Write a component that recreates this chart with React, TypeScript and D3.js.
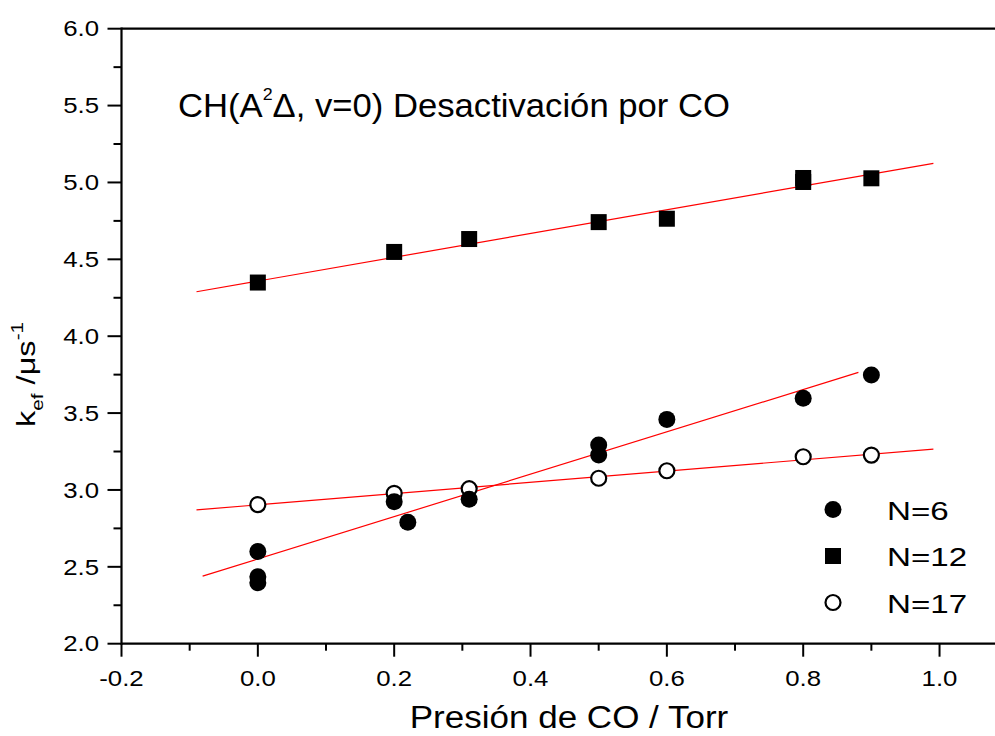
import React from "react";
import * as d3 from "d3";

// Pressure of CO (Torr) and effective decay rates k_ef (µs^-1) for three rotational levels
const n6Pressure = [0, 0, 0, 0.2, 0.22, 0.31, 0.5, 0.5, 0.6, 0.8, 0.9];
const n6Rate = [2.6, 2.435, 2.397, 2.924, 2.79, 2.94, 3.292, 3.227, 3.459, 3.596, 3.748];

const n12Pressure = [0, 0.2, 0.31, 0.5, 0.6, 0.8, 0.8, 0.9];
const n12Rate = [4.349, 4.548, 4.632, 4.742, 4.764, 5.029, 5.003, 5.027];

const n17Pressure = [0, 0.2, 0.31, 0.5, 0.6, 0.8, 0.9];
const n17Rate = [2.905, 2.978, 3.008, 3.076, 3.125, 3.216, 3.227];

// Linear fits (intercept, slope) and the pressure span each fit line covers
const fitIntercept = [2.551, 4.3585, 2.903];
const fitSlope = [1.378, 0.773, 0.366];
const fitFrom = [-0.081, -0.09, -0.09];
const fitTo = [0.881, 0.991, 0.991];

const legendLabels = ["N=6", "N=12", "N=17"];
const xTickValues = [-0.2, 0, 0.2, 0.4, 0.6, 0.8, 1.0];
const xMinorValues = [-0.1, 0.1, 0.3, 0.5, 0.7, 0.9];
const yTickValues = [2.0, 2.5, 3.0, 3.5, 4.0, 4.5, 5.0, 5.5, 6.0];
const yMinorValues = [2.25, 2.75, 3.25, 3.75, 4.25, 4.75, 5.25, 5.75];

const FONT = "Arial, 'Liberation Sans', Helvetica, sans-serif";

export default function App() {
  const left = 121.5;
  const top = 28.7;
  const bottom = 643.7;
  const pxPerUnit = 681.7;

  const x = d3.scaleLinear().domain([-0.2, 1.1]).range([left, left + 1.3 * pxPerUnit]);
  const y = d3.scaleLinear().domain([2, 6]).range([bottom, top]);

  const line = d3
    .line<[number, number]>()
    .x((d) => x(d[0]))
    .y((d) => y(d[1]));

  const fits = fitIntercept.map((b, i) => {
    const pts: [number, number][] = [
      [fitFrom[i], b + fitSlope[i] * fitFrom[i]],
      [fitTo[i], b + fitSlope[i] * fitTo[i]],
    ];
    return line(pts) as string;
  });

  // plain hyphen for negative values
  const fmt = (v: number) => v.toFixed(1);
  const sq = 16;

  const marker = (kind: number, cx: number, cy: number, key: string) => {
    if (kind === 0) return <circle key={key} cx={cx} cy={cy} r={8.5} fill="#000" />;
    if (kind === 1)
      return <rect key={key} x={cx - sq / 2} y={cy - sq / 2} width={sq} height={sq} fill="#000" />;
    return <circle key={key} cx={cx} cy={cy} r={7.5} fill="#fff" stroke="#000" strokeWidth={2.2} />;
  };

  return (
    <svg
      width={995}
      height={736}
      style={{ position: "absolute", left: 0, top: 0, background: "#fff" }}
      fontFamily={FONT}
    >
      <rect x={0} y={0} width={995} height={736} fill="#fff" />

      {/* frame */}
      <g stroke="#000" strokeWidth={2.2} fill="none">
        <line x1={left} y1={top} x2={x(1.1)} y2={top} />
        <line x1={left} y1={bottom} x2={x(1.1)} y2={bottom} />
        <line x1={left} y1={top - 1.1} x2={left} y2={bottom + 1.1} />
      </g>

      {/* ticks */}
      <g stroke="#000" strokeWidth={2}>
        {xTickValues.map((v) => (
          <line key={"xt" + v} x1={x(v)} x2={x(v)} y1={bottom} y2={bottom + 13} />
        ))}
        {xMinorValues.map((v) => (
          <line key={"xm" + v} x1={x(v)} x2={x(v)} y1={bottom} y2={bottom + 7} />
        ))}
        {yTickValues.map((v) => (
          <line key={"yt" + v} x1={left} x2={left - 14} y1={y(v)} y2={y(v)} />
        ))}
        {yMinorValues.map((v) => (
          <line key={"ym" + v} x1={left} x2={left - 8} y1={y(v)} y2={y(v)} />
        ))}
      </g>

      {/* tick labels */}
      <g fontSize={21.5} fill="#000">
        {xTickValues.map((v) => (
          <g key={"xl" + v} transform={`translate(${x(v)},${bottom + 42}) scale(1.2,1)`}>
            <text textAnchor="middle">{fmt(v)}</text>
          </g>
        ))}
        {yTickValues.map((v) => (
          <g key={"yl" + v} transform={`translate(99,${y(v) + 7.7}) scale(1.2,1)`}>
            <text textAnchor="end">{fmt(v)}</text>
          </g>
        ))}
      </g>

      {/* axis titles */}
      <g transform="translate(569,728) scale(1.13,1)">
        <text textAnchor="middle" fontSize={31} fill="#000">
          Presión de CO / Torr
        </text>
      </g>
      <g transform="translate(35,427) rotate(-90) scale(1.3,1)">
        <text fontSize={25} fill="#000">
          <tspan>k</tspan>
          <tspan fontSize={16} dy={8}>ef</tspan>
          <tspan dy={-8}> /μs</tspan>
          <tspan fontSize={16} dy={-12}>-1</tspan>
        </text>
      </g>

      {/* annotation */}
      <g transform="translate(178,117) scale(1.05,1)">
        <text fontSize={33} fill="#000">
          <tspan>CH(A</tspan>
          <tspan fontSize={17} dy={-17}>2</tspan>
          <tspan dy={17}>Δ, v=0) Desactivación por CO</tspan>
        </text>
      </g>

      {/* fit lines */}
      <g stroke="#ff0000" strokeWidth={1.2} fill="none">
        {fits.map((d, i) => (
          <path key={"fit" + i} d={d} />
        ))}
      </g>

      {/* data points */}
      <g>
        {n12Pressure.map((p, i) => marker(1, x(p), y(n12Rate[i]), "s" + i))}
        {n17Pressure.map((p, i) => marker(2, x(p), y(n17Rate[i]), "o" + i))}
        {n6Pressure.map((p, i) => marker(0, x(p), y(n6Rate[i]), "c" + i))}
      </g>

      {/* legend */}
      <g>
        {legendLabels.map((lab, i) => {
          const cy = 509.5 + i * 46.5;
          return (
            <g key={"lg" + i}>
              {marker(i, 833, cy, "lm" + i)}
              <g transform={`translate(887,${cy + 10.3}) scale(1.25,1)`}>
                <text fontSize={26.5} fill="#000">
                  {lab}
                </text>
              </g>
            </g>
          );
        })}
      </g>
    </svg>
  );
}
